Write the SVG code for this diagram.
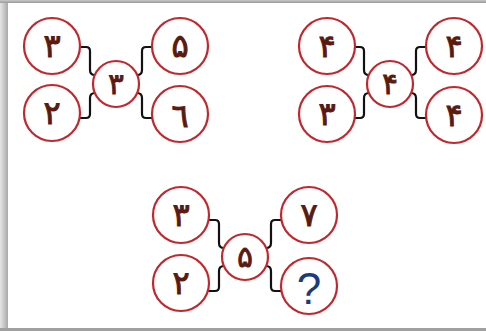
<svg xmlns="http://www.w3.org/2000/svg" width="486" height="331" viewBox="0 0 486 331">
<defs>
<linearGradient id="lg" x1="0" y1="0" x2="1" y2="0"><stop offset="0" stop-color="#e6e6e6"/><stop offset="1" stop-color="#a9a9a9"/></linearGradient>
<linearGradient id="tg" x1="0" y1="0" x2="0" y2="1"><stop offset="0" stop-color="#c8c8c8"/><stop offset="1" stop-color="#9a9a9a"/></linearGradient>
</defs>
<style>
.c{fill:#fff;stroke:#c1272d;stroke-width:2.2}
.k{fill:none;stroke:#111;stroke-width:2.2;stroke-linejoin:round}
.t{font-family:"DejaVu Sans",sans-serif;font-weight:normal;fill:#5a1a0f;stroke:#5a1a0f;stroke-width:1;text-anchor:middle;dominant-baseline:central}
.o{font-size:32px}
.m{font-size:29px}
.q{font-family:"Liberation Sans",sans-serif;font-size:44px;fill:#1c3a7e;text-anchor:middle;dominant-baseline:central}
</style>
<rect width="486" height="331" fill="#fff"/>
<rect x="0" y="0" width="8" height="331" fill="url(#lg)"/>
<rect x="0" y="0" width="486" height="3" fill="url(#tg)"/>
<rect x="0" y="328" width="486" height="3" fill="#a0a0a0"/>

<g id="connectors">
<g transform="translate(116,84)">
<path class="k" d="M -36 -37 H -30 Q -26 -37 -26 -33 V -14 Q -26 -9 -21 -9"/>
<path class="k" d="M -21 9 Q -26 9 -26 14 V 30 Q -26 34 -30 34 H -37"/>
<path class="k" d="M 21 -9 Q 26 -9 26 -14 V -33 Q 26 -37 30 -37 H 36"/>
<path class="k" d="M 21 9 Q 26 9 26 14 V 30 Q 26 34 30 34 H 37"/>
</g>
<g transform="translate(390,84)">
<path class="k" d="M -36 -37 H -30 Q -26 -37 -26 -33 V -14 Q -26 -9 -21 -9"/>
<path class="k" d="M -21 9 Q -26 9 -26 14 V 30 Q -26 34 -30 34 H -37"/>
<path class="k" d="M 21 -9 Q 26 -9 26 -14 V -33 Q 26 -37 30 -37 H 36"/>
<path class="k" d="M 21 9 Q 26 9 26 14 V 30 Q 26 34 30 34 H 37"/>
</g>
<g transform="translate(245,257)">
<path class="k" d="M -36 -37 H -30 Q -26 -37 -26 -33 V -14 Q -26 -9 -21 -9"/>
<path class="k" d="M -21 9 Q -26 9 -26 14 V 30 Q -26 34 -30 34 H -37"/>
<path class="k" d="M 21 -9 Q 26 -9 26 -14 V -33 Q 26 -37 30 -37 H 36"/>
<path class="k" d="M 21 9 Q 26 9 26 14 V 30 Q 26 34 30 34 H 37"/>
</g>
</g>

<g id="p1-tl"><circle class="c" cx="52" cy="46" r="28"/><text class="t o" x="52" y="46">۳</text></g>
<g id="p1-bl"><circle class="c" cx="52" cy="113" r="28"/><text class="t o" x="52" y="113">۲</text></g>
<g id="p1-c"><circle class="c" cx="116" cy="84" r="23"/><text class="t m" x="116" y="84">۳</text></g>
<g id="p1-tr"><circle class="c" cx="180" cy="46" r="28"/><text class="t o" x="180" y="46">۵</text></g>
<g id="p1-br"><circle class="c" cx="180" cy="114" r="28"/><text class="t o" x="180" y="116">٦</text></g>

<g id="p2-tl"><circle class="c" cx="327" cy="46" r="28"/><text class="t o" x="327" y="46">۴</text></g>
<g id="p2-bl"><circle class="c" cx="327" cy="114" r="28"/><text class="t o" x="327" y="114">۳</text></g>
<g id="p2-c"><circle class="c" cx="390" cy="84" r="23"/><text class="t m" x="390" y="84">۴</text></g>
<g id="p2-tr"><circle class="c" cx="454" cy="46" r="28"/><text class="t o" x="454" y="46">۴</text></g>
<g id="p2-br"><circle class="c" cx="454" cy="115" r="28"/><text class="t o" x="454" y="115">۴</text></g>

<g id="p3-tl"><circle class="c" cx="181" cy="215" r="28"/><text class="t o" x="181" y="215">۳</text></g>
<g id="p3-bl"><circle class="c" cx="181" cy="283" r="28"/><text class="t o" x="181" y="283">۲</text></g>
<g id="p3-c"><circle class="c" cx="245" cy="257" r="23"/><text class="t m" x="245" y="257">۵</text></g>
<g id="p3-tr"><circle class="c" cx="309" cy="215" r="28"/><text class="t o" x="309" y="215">۷</text></g>
<g id="p3-br"><circle class="c" cx="309" cy="286" r="28"/><text class="q" x="309" y="288">?</text></g>
</svg>
